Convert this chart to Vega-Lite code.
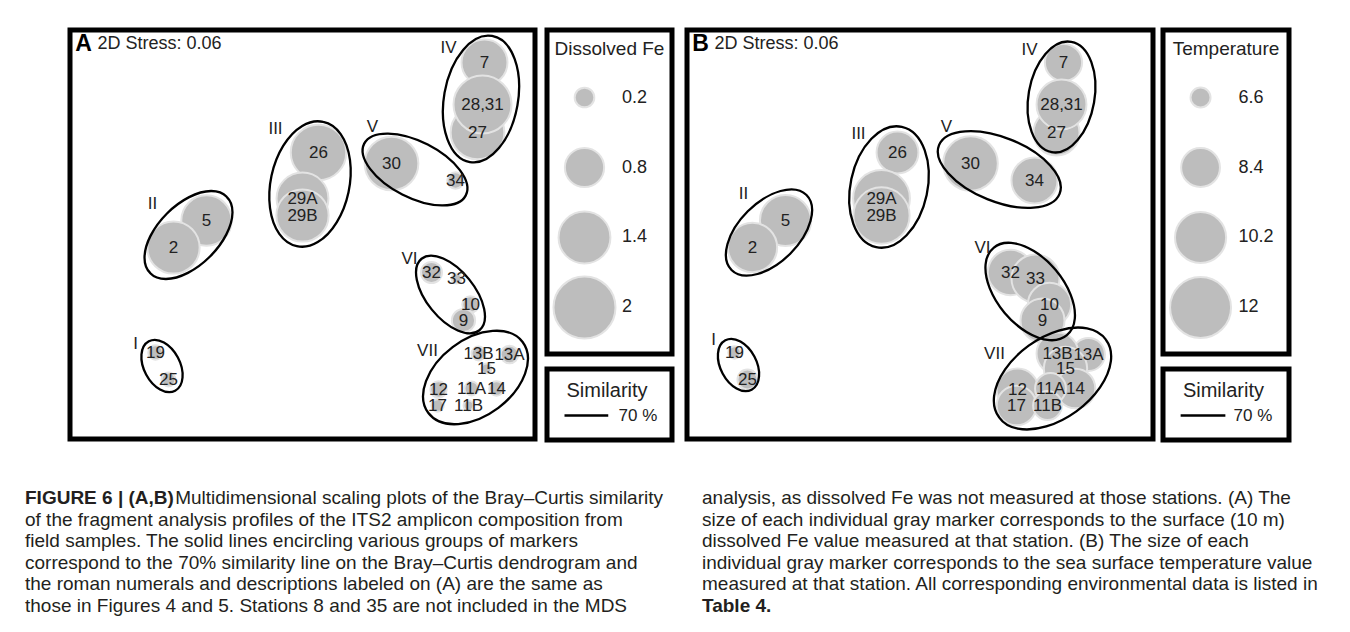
{
  "$schema": "https://vega.github.io/schema/vega-lite/v6.json",
  "background": "white",
  "padding": {"left": 25, "top": 27, "right": 0, "bottom": 0},
  "config": {
    "view": {"stroke": null},
    "text": {"font": "Liberation Sans", "color": "#222222"},
    "font": "Liberation Sans"
  },
  "datasets": {
    "stations": [
      {"st": "7", "label": "7", "x": 1.82, "y": 1.72, "fe": 1.1, "temp": 8.2},
      {"st": "27", "label": "27", "x": 1.75, "y": 1.02, "fe": 1.5, "temp": 9.4},
      {"st": "31", "label": "", "x": 1.80, "y": 1.30, "fe": 1.5, "temp": 9.8},
      {"st": "28", "label": "28,31", "x": 1.80, "y": 1.30, "fe": 1.75, "temp": 10.0},
      {"st": "26", "label": "26", "x": 0.16, "y": 0.82, "fe": 1.6, "temp": 8.8},
      {"st": "29A", "label": "29A", "x": 0.00, "y": 0.36, "fe": 1.4, "temp": 11.2},
      {"st": "29B", "label": "29B", "x": 0.00, "y": 0.19, "fe": 1.42, "temp": 11.1},
      {"st": "30", "label": "30", "x": 0.89, "y": 0.71, "fe": 1.5, "temp": 10.8},
      {"st": "34", "label": "34", "x": 1.53, "y": 0.54, "fe": 0.14, "temp": 9.4},
      {"st": "5", "label": "5", "x": -0.96, "y": 0.14, "fe": 1.32, "temp": 10.2},
      {"st": "2", "label": "2", "x": -1.29, "y": -0.13, "fe": 1.42, "temp": 9.9},
      {"st": "32", "label": "32", "x": 1.29, "y": -0.38, "fe": 0.23, "temp": 9.3},
      {"st": "33", "label": "33", "x": 1.54, "y": -0.44, "fe": 0.05, "temp": 9.7},
      {"st": "10", "label": "10", "x": 1.68, "y": -0.70, "fe": 0.14, "temp": 9.0},
      {"st": "9", "label": "9", "x": 1.61, "y": -0.86, "fe": 0.28, "temp": 9.1},
      {"st": "19", "label": "19", "x": -1.47, "y": -1.18, "fe": 0.11, "temp": 6.2},
      {"st": "25", "label": "25", "x": -1.34, "y": -1.45, "fe": 0.1, "temp": 6.6},
      {"st": "13A", "label": "13A", "x": 2.07, "y": -1.20, "fe": 0.16, "temp": 7.7},
      {"st": "13B", "label": "13B", "x": 1.76, "y": -1.19, "fe": 0.1, "temp": 8.8},
      {"st": "15", "label": "15", "x": 1.84, "y": -1.34, "fe": 0.05, "temp": 9.0},
      {"st": "14", "label": "14", "x": 1.94, "y": -1.54, "fe": 0.11, "temp": 8.5},
      {"st": "12", "label": "12", "x": 1.36, "y": -1.55, "fe": 0.14, "temp": 8.8},
      {"st": "17", "label": "17", "x": 1.35, "y": -1.71, "fe": 0.08, "temp": 8.5},
      {"st": "11A", "label": "11A", "x": 1.69, "y": -1.54, "fe": 0.1, "temp": 7.5},
      {"st": "11B", "label": "11B", "x": 1.66, "y": -1.71, "fe": 0.05, "temp": 7.3}
    ],
    "clusters": [
      {"panel": "A", "cl": "I", "cx": -1.405, "cy": -1.315, "lx": -1.67, "ly": -1.09},
      {"panel": "A", "cl": "II", "cx": -1.14, "cy": -0.005, "lx": -1.50, "ly": 0.31},
      {"panel": "A", "cl": "III", "cx": 0.075, "cy": 0.505, "lx": -0.27, "ly": 1.06},
      {"panel": "A", "cl": "IV", "cx": 1.785, "cy": 1.355, "lx": 1.46, "ly": 1.87},
      {"panel": "A", "cl": "V", "cx": 1.125, "cy": 0.65, "lx": 0.70, "ly": 1.08},
      {"panel": "A", "cl": "VI", "cx": 1.48, "cy": -0.60, "lx": 1.07, "ly": -0.24},
      {"panel": "A", "cl": "VII", "cx": 1.73, "cy": -1.43, "lx": 1.25, "ly": -1.16},
      {"panel": "B", "cl": "I", "cx": -1.43, "cy": -1.305, "lx": -1.68, "ly": -1.05},
      {"panel": "B", "cl": "II", "cx": -1.125, "cy": 0.02, "lx": -1.38, "ly": 0.41},
      {"panel": "B", "cl": "III", "cx": 0.075, "cy": 0.475, "lx": -0.23, "ly": 1.01},
      {"panel": "B", "cl": "IV", "cx": 1.80, "cy": 1.375, "lx": 1.48, "ly": 1.85},
      {"panel": "B", "cl": "V", "cx": 1.178, "cy": 0.65, "lx": 0.65, "ly": 1.08},
      {"panel": "B", "cl": "VI", "cx": 1.487, "cy": -0.57, "lx": 1.01, "ly": -0.13},
      {"panel": "B", "cl": "VII", "cx": 1.71, "cy": -1.44, "lx": 1.13, "ly": -1.19}
    ],
    "caption": [
      {"col": "L", "line": 1, "kind": "label", "t": "FIGURE 6 | (A,B)"},
      {"col": "L", "line": 1, "kind": "bodyEnd", "t": "Multidimensional scaling plots of the Bray–Curtis similarity"},
      {"col": "L", "line": 2, "kind": "body", "t": "of the fragment analysis profiles of the ITS2 amplicon composition from"},
      {"col": "L", "line": 3, "kind": "body", "t": "field samples. The solid lines encircling various groups of markers"},
      {"col": "L", "line": 4, "kind": "body", "t": "correspond to the 70% similarity line on the Bray–Curtis dendrogram and"},
      {"col": "L", "line": 5, "kind": "body", "t": "the roman numerals and descriptions labeled on (A) are the same as"},
      {"col": "L", "line": 6, "kind": "body", "t": "those in Figures 4 and 5. Stations 8 and 35 are not included in the MDS"},
      {"col": "R", "line": 1, "kind": "body", "t": "analysis, as dissolved Fe was not measured at those stations. (A) The"},
      {"col": "R", "line": 2, "kind": "body", "t": "size of each individual gray marker corresponds to the surface (10 m)"},
      {"col": "R", "line": 3, "kind": "body", "t": "dissolved Fe value measured at that station. (B) The size of each"},
      {"col": "R", "line": 4, "kind": "body", "t": "individual gray marker corresponds to the sea surface temperature value"},
      {"col": "R", "line": 5, "kind": "body", "t": "measured at that station. All corresponding environmental data is listed in"},
      {"col": "R", "line": 6, "kind": "label", "t": "Table 4."}
    ]
  },
  "resolve": {"scale": {"size": "independent", "shape": "independent"}},
  "spacing": 40,
  "vconcat": [
    {
      "spacing": 9,
      "resolve": {"scale": {"size": "independent", "shape": "independent"}},
      "hconcat": [
        {"width": 33, "height": 10, "data": {"values": []}, "mark": "point"},
        {
          "spacing": 6,
          "resolve": {"scale": {"size": "independent", "shape": "independent"}},
          "hconcat": [
            {
              "width": 465, "height": 409,
              "view": {"stroke": "black", "strokeWidth": 5},
              "layer": [
                {
                  "data": {"name": "stations"},
                  "mark": {"type": "circle", "fill": "#bdbdbd", "stroke": "#e3e3e3", "strokeWidth": 2, "opacity": 1},
                  "encoding": {
                    "x": {"field": "x", "type": "quantitative", "scale": {"domain": [-2.325, 2.325], "nice": false, "zero": false}, "axis": null},
                    "y": {"field": "y", "type": "quantitative", "scale": {"domain": [-2.045, 2.045], "nice": false, "zero": false}, "axis": null},
                    "size": {"field": "fe", "type": "quantitative", "scale": {"domain": [0, 2], "range": [0, 3844]}, "legend": null}
                  }
                },
                {
                  "data": {"name": "clusters"},
                  "transform": [{"filter": "datum.panel === 'A'"}],
                  "mark": {"type": "point", "size": 4, "filled": false, "stroke": "black", "strokeWidth": 2.3, "opacity": 1},
                  "encoding": {
                    "x": {"field": "cx", "type": "quantitative"},
                    "y": {"field": "cy", "type": "quantitative"},
                    "shape": {"field": "cl", "type": "nominal", "legend": null, "scale": {
                      "domain": ["I", "II", "III", "IV", "V", "VI", "VII"],
                      "range": [
                        "M 13.15 24.72 A 28 18 62 1 0 -13.15 -24.72 A 28 18 62 1 0 13.15 24.72 Z",
                        "M 38.18 -38.18 A 54 30 -45 1 0 -38.18 38.18 A 54 30 -45 1 0 38.18 -38.18 Z",
                        "M 13.20 -62.11 A 63.5 39 -78 1 0 -13.20 62.11 A 63.5 39 -78 1 0 13.20 -62.11 Z",
                        "M 11.11 -63.03 A 64 37 -80 1 0 -11.11 63.03 A 64 37 -80 1 0 11.11 -63.03 Z",
                        "M 50.79 25.88 A 57 28 27 1 0 -50.79 -25.88 A 57 28 27 1 0 50.79 25.88 Z",
                        "M 28.95 35.75 A 46 24 51 1 0 -28.95 -35.75 A 46 24 51 1 0 28.95 35.75 Z",
                        "M 47.12 -35.51 A 59 38 -37 1 0 -47.12 35.51 A 59 38 -37 1 0 47.12 -35.51 Z"
                      ]}}
                  }
                },
                {
                  "data": {"name": "stations"},
                  "mark": {"type": "text", "fontSize": 17, "baseline": "middle"},
                  "encoding": {
                    "x": {"field": "x", "type": "quantitative"},
                    "y": {"field": "y", "type": "quantitative"},
                    "text": {"field": "label"}
                  }
                },
                {
                  "data": {"name": "clusters"},
                  "transform": [{"filter": "datum.panel === 'A'"}],
                  "mark": {"type": "text", "fontSize": 17, "baseline": "middle"},
                  "encoding": {
                    "x": {"field": "lx", "type": "quantitative"},
                    "y": {"field": "ly", "type": "quantitative"},
                    "text": {"field": "cl"}
                  }
                },
                {
                  "data": {"values": [{"t": "A"}]},
                  "mark": {"type": "text", "fontSize": 23, "fontWeight": "bold", "baseline": "middle", "color": "black"},
                  "encoding": {"x": {"datum": -2.19}, "y": {"datum": 1.91}, "text": {"field": "t"}}
                },
                {
                  "data": {"values": [{"t": "2D Stress: 0.06"}]},
                  "mark": {"type": "text", "fontSize": 18, "align": "left", "baseline": "middle"},
                  "encoding": {"x": {"datum": -2.05}, "y": {"datum": 1.91}, "text": {"field": "t"}}
                }
              ]
            },
            {
              "spacing": 9,
              "resolve": {"scale": {"size": "independent"}},
              "vconcat": [
                {
                  "width": 125, "height": 324,
                  "view": {"stroke": "black", "strokeWidth": 5},
                  "data": {"values": [{"v": 0.2, "lab": "0.2"}, {"v": 0.8, "lab": "0.8"}, {"v": 1.4, "lab": "1.4"}, {"v": 2, "lab": "2"}]},
                  "layer": [
                    {
                      "mark": {"type": "circle", "fill": "#bdbdbd", "stroke": "#e3e3e3", "strokeWidth": 2, "opacity": 1},
                      "encoding": {
                        "x": {"datum": 0.3, "type": "quantitative", "scale": {"domain": [0, 1], "nice": false, "zero": false}, "axis": null},
                        "y": {"field": "v", "type": "quantitative", "scale": {"domain": [-0.3786, 2.3986], "reverse": true, "nice": false, "zero": false}, "axis": null},
                        "size": {"field": "v", "type": "quantitative", "scale": {"domain": [0, 2], "range": [0, 3844]}, "legend": null}
                      }
                    },
                    {
                      "mark": {"type": "text", "fontSize": 18, "align": "left", "baseline": "middle"},
                      "encoding": {
                        "x": {"datum": 0.6, "type": "quantitative"},
                        "y": {"field": "v", "type": "quantitative"},
                        "text": {"field": "lab"}
                      }
                    },
                    {
                      "data": {"values": [{"t": "Dissolved Fe"}]},
                      "mark": {"type": "text", "fontSize": 19, "align": "center", "baseline": "middle"},
                      "encoding": {"x": {"datum": 0.5, "type": "quantitative"}, "y": {"datum": -0.216, "type": "quantitative"}, "text": {"field": "t"}}
                    }
                  ]
                },
                {
                  "width": 125, "height": 71,
                  "view": {"stroke": "black", "strokeWidth": 5},
                  "layer": [
                    {
                      "data": {"values": [{"t": "Similarity"}]},
                      "mark": {"type": "text", "fontSize": 20, "align": "center", "baseline": "middle"},
                      "encoding": {
                        "x": {"datum": 0.48, "type": "quantitative", "scale": {"domain": [0, 1], "nice": false}, "axis": null},
                        "y": {"datum": 0.303, "type": "quantitative", "scale": {"domain": [0, 1], "reverse": true, "nice": false}, "axis": null},
                        "text": {"field": "t"}
                      }
                    },
                    {
                      "data": {"values": [{"t": "70 %"}]},
                      "mark": {"type": "text", "fontSize": 17, "align": "left", "baseline": "middle"},
                      "encoding": {"x": {"datum": 0.572, "type": "quantitative"}, "y": {"datum": 0.655, "type": "quantitative"}, "text": {"field": "t"}}
                    },
                    {
                      "data": {"values": [{"t": "line"}]},
                      "mark": {"type": "rule", "strokeWidth": 2.5, "color": "black"},
                      "encoding": {"x": {"datum": 0.14, "type": "quantitative"}, "x2": {"datum": 0.49}, "y": {"datum": 0.655, "type": "quantitative"}}
                    }
                  ]
                }
              ]
            }
          ]
        },
        {
          "spacing": 4,
          "resolve": {"scale": {"size": "independent", "shape": "independent"}},
          "hconcat": [
            {
              "width": 466, "height": 409,
              "view": {"stroke": "black", "strokeWidth": 5},
              "layer": [
                {
                  "data": {"name": "stations"},
                  "mark": {"type": "circle", "fill": "#bdbdbd", "stroke": "#e3e3e3", "strokeWidth": 2, "opacity": 1},
                  "encoding": {
                    "x": {"field": "x", "type": "quantitative", "scale": {"domain": [-1.945, 2.715], "nice": false, "zero": false}, "axis": null},
                    "y": {"field": "y", "type": "quantitative", "scale": {"domain": [-2.045, 2.045], "nice": false, "zero": false}, "axis": null},
                    "size": {"field": "temp", "type": "quantitative", "scale": {"domain": [5.95, 12], "range": [0, 3721], "zero": false}, "legend": null}
                  }
                },
                {
                  "data": {"name": "clusters"},
                  "transform": [{"filter": "datum.panel === 'B'"}],
                  "mark": {"type": "point", "size": 4, "filled": false, "stroke": "black", "strokeWidth": 2.3, "opacity": 1},
                  "encoding": {
                    "x": {"field": "cx", "type": "quantitative"},
                    "y": {"field": "cy", "type": "quantitative"},
                    "shape": {"field": "cl", "type": "nominal", "legend": null, "scale": {
                      "domain": ["I", "II", "III", "IV", "V", "VI", "VII"],
                      "range": [
                        "M 13.15 24.72 A 28 18 62 1 0 -13.15 -24.72 A 28 18 62 1 0 13.15 24.72 Z",
                        "M 37.48 -37.48 A 53 30 -45 1 0 -37.48 37.48 A 53 30 -45 1 0 37.48 -37.48 Z",
                        "M 12.79 -60.16 A 61.5 38.5 -78 1 0 -12.79 60.16 A 61.5 38.5 -78 1 0 12.79 -60.16 Z",
                        "M 9.72 -55.15 A 56 33 -80 1 0 -9.72 55.15 A 56 33 -80 1 0 9.72 -55.15 Z",
                        "M 60.27 24.35 A 65 32 22 1 0 -60.27 -24.35 A 65 32 22 1 0 60.27 24.35 Z",
                        "M 36.64 43.66 A 57 33 50 1 0 -36.64 -43.66 A 57 33 50 1 0 36.64 43.66 Z",
                        "M 53.39 -38.79 A 66 40 -36 1 0 -53.39 38.79 A 66 40 -36 1 0 53.39 -38.79 Z"
                      ]}}
                  }
                },
                {
                  "data": {"name": "stations"},
                  "mark": {"type": "text", "fontSize": 17, "baseline": "middle"},
                  "encoding": {
                    "x": {"field": "x", "type": "quantitative"},
                    "y": {"field": "y", "type": "quantitative"},
                    "text": {"field": "label"}
                  }
                },
                {
                  "data": {"name": "clusters"},
                  "transform": [{"filter": "datum.panel === 'B'"}],
                  "mark": {"type": "text", "fontSize": 17, "baseline": "middle"},
                  "encoding": {
                    "x": {"field": "lx", "type": "quantitative"},
                    "y": {"field": "ly", "type": "quantitative"},
                    "text": {"field": "cl"}
                  }
                },
                {
                  "data": {"values": [{"t": "B"}]},
                  "mark": {"type": "text", "fontSize": 23, "fontWeight": "bold", "baseline": "middle", "color": "black"},
                  "encoding": {"x": {"datum": -1.81}, "y": {"datum": 1.91}, "text": {"field": "t"}}
                },
                {
                  "data": {"values": [{"t": "2D Stress: 0.06"}]},
                  "mark": {"type": "text", "fontSize": 18, "align": "left", "baseline": "middle"},
                  "encoding": {"x": {"datum": -1.67}, "y": {"datum": 1.91}, "text": {"field": "t"}}
                }
              ]
            },
            {
              "spacing": 9,
              "resolve": {"scale": {"size": "independent"}},
              "vconcat": [
                {
                  "width": 126, "height": 324,
                  "view": {"stroke": "black", "strokeWidth": 5},
                  "data": {"values": [{"v": 6.6, "lab": "6.6"}, {"v": 8.4, "lab": "8.4"}, {"v": 10.2, "lab": "10.2"}, {"v": 12, "lab": "12"}]},
                  "layer": [
                    {
                      "mark": {"type": "circle", "fill": "#bdbdbd", "stroke": "#e3e3e3", "strokeWidth": 2, "opacity": 1},
                      "encoding": {
                        "x": {"datum": 0.298, "type": "quantitative", "scale": {"domain": [0, 1], "nice": false, "zero": false}, "axis": null},
                        "y": {"field": "v", "type": "quantitative", "scale": {"domain": [4.864, 13.196], "reverse": true, "nice": false, "zero": false}, "axis": null},
                        "size": {"field": "v", "type": "quantitative", "scale": {"domain": [5.95, 12], "range": [0, 3721], "zero": false}, "legend": null}
                      }
                    },
                    {
                      "mark": {"type": "text", "fontSize": 18, "align": "left", "baseline": "middle"},
                      "encoding": {
                        "x": {"datum": 0.6, "type": "quantitative"},
                        "y": {"field": "v", "type": "quantitative"},
                        "text": {"field": "lab"}
                      }
                    },
                    {
                      "data": {"values": [{"t": "Temperature"}]},
                      "mark": {"type": "text", "fontSize": 19, "align": "center", "baseline": "middle"},
                      "encoding": {"x": {"datum": 0.5, "type": "quantitative"}, "y": {"datum": 5.353, "type": "quantitative"}, "text": {"field": "t"}}
                    }
                  ]
                },
                {
                  "width": 126, "height": 71,
                  "view": {"stroke": "black", "strokeWidth": 5},
                  "layer": [
                    {
                      "data": {"values": [{"t": "Similarity"}]},
                      "mark": {"type": "text", "fontSize": 20, "align": "center", "baseline": "middle"},
                      "encoding": {
                        "x": {"datum": 0.48, "type": "quantitative", "scale": {"domain": [0, 1], "nice": false}, "axis": null},
                        "y": {"datum": 0.303, "type": "quantitative", "scale": {"domain": [0, 1], "reverse": true, "nice": false}, "axis": null},
                        "text": {"field": "t"}
                      }
                    },
                    {
                      "data": {"values": [{"t": "70 %"}]},
                      "mark": {"type": "text", "fontSize": 17, "align": "left", "baseline": "middle"},
                      "encoding": {"x": {"datum": 0.56, "type": "quantitative"}, "y": {"datum": 0.655, "type": "quantitative"}, "text": {"field": "t"}}
                    },
                    {
                      "data": {"values": [{"t": "line"}]},
                      "mark": {"type": "rule", "strokeWidth": 2.5, "color": "black"},
                      "encoding": {"x": {"datum": 0.14, "type": "quantitative"}, "x2": {"datum": 0.495}, "y": {"datum": 0.655, "type": "quantitative"}}
                    }
                  ]
                }
              ]
            }
          ]
        }
      ]
    },
    {
      "width": 1315, "height": 130,
      "data": {"name": "caption"},
      "layer": [
        {
          "transform": [{"filter": "datum.kind === 'label'"}],
          "mark": {"type": "text", "align": "left", "baseline": "middle", "fontWeight": "bold", "fontSize": 19, "color": "#231f20"},
          "encoding": {
            "x": {"field": "col", "type": "nominal", "bandPosition": 0, "scale": {"type": "band", "domain": ["L", "R"], "paddingInner": 0.0576, "paddingOuter": 0}, "axis": null},
            "y": {"field": "line", "type": "ordinal", "scale": {"type": "point", "range": [15, 123], "padding": 0}, "axis": null},
            "text": {"field": "t"}
          }
        },
        {
          "transform": [{"filter": "datum.kind === 'body'"}],
          "mark": {"type": "text", "align": "left", "baseline": "middle", "fontSize": 19, "color": "#231f20"},
          "encoding": {
            "x": {"field": "col", "type": "nominal", "bandPosition": 0},
            "y": {"field": "line", "type": "ordinal"},
            "text": {"field": "t"}
          }
        },
        {
          "transform": [{"filter": "datum.kind === 'bodyEnd'"}],
          "mark": {"type": "text", "align": "right", "baseline": "middle", "fontSize": 19, "color": "#231f20"},
          "encoding": {
            "x": {"field": "col", "type": "nominal", "bandPosition": 1},
            "y": {"field": "line", "type": "ordinal"},
            "text": {"field": "t"}
          }
        }
      ]
    }
  ]
}
